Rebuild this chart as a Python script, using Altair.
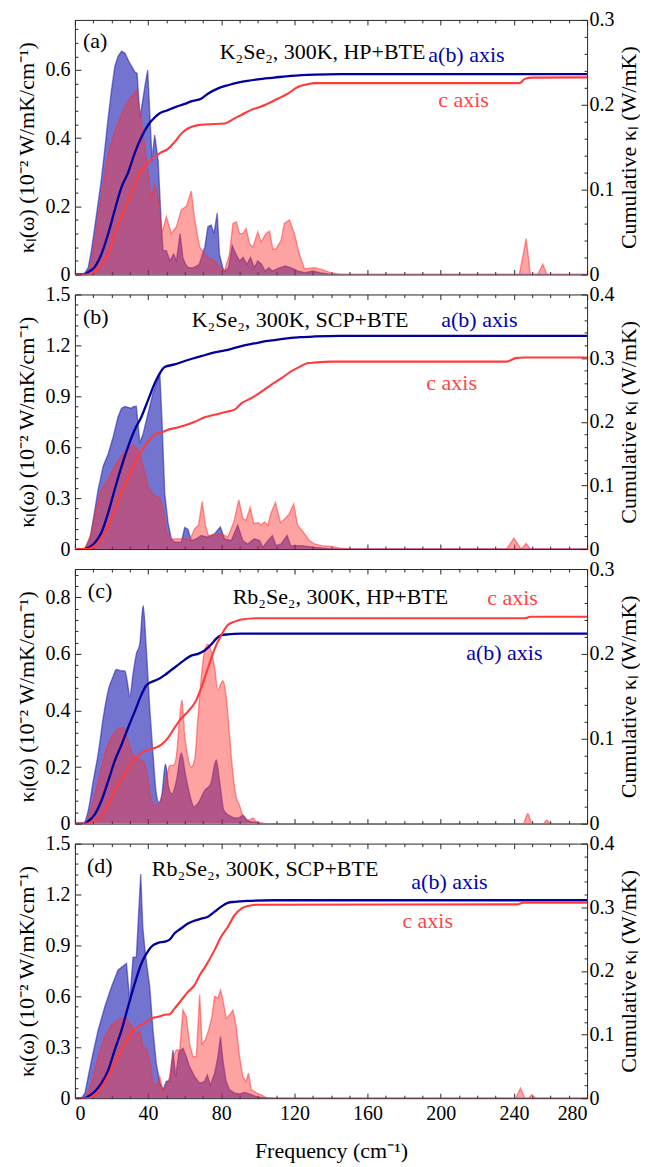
import altair as alt
import pandas as pd

# ---------------- data ----------------
# (frequency cm^-1, value) pairs
# panel (a) K2Se2 300K HP+BTE
A_AB_AREA = [(0,0),(3,0),(5.5,0.005),(7.3,0.02),(9,0.07),(10.9,0.14),(12.7,0.21),(14.5,0.28),(16.4,0.37),(18.2,0.46),
             (20,0.54),(21.8,0.61),(23.6,0.64),(25.5,0.655),(27.3,0.65),(30,0.62),(32.7,0.595),(34,0.59),(35.6,0.46),(38.2,0.55),
             (39.8,0.60),(41.5,0.41),(42.2,0.335),(43.6,0.41),(45.5,0.335),(47.3,0.14),(48.2,0.07),(50,0.07),(52,0.04),(54,0.06),
             (55.5,0.04),(57.5,0.12),(59,0.05),(60.5,0.03),(62,0.02),(65,0.02),(68,0.03),(71,0.08),(72.7,0.14),(74.5,0.145),
             (76,0.12),(77.8,0.18),(79,0.06),(81,0.017),(82,0.01),(84,0.02),(86,0.085),(88,0.06),(90,0.04),(92,0.05),
             (94,0.03),(96,0.05),(98,0.02),(100,0.04),(102,0.03),(104,0.01),(106,0.02),(108,0.01),(112,0.02),(115,0.025),
             (118,0.02),(122,0.01),(126,0.005),(130,0.01),(134,0.005),(140,0),(280,0)]
A_C_AREA = [(0,0),(4,0),(7.3,0.005),(9,0.04),(10.9,0.1),(12.7,0.17),(14.5,0.23),(16.4,0.3),(18.2,0.355),(21.8,0.42),
            (25.5,0.47),(29.1,0.51),(33.6,0.54),(36.4,0.45),(39.1,0.335),(41.8,0.22),(43.6,0.265),(45.1,0.24),(47.6,0.12),(50,0.17),
            (52.7,0.12),(55.5,0.14),(58.2,0.19),(61,0.2),(63.6,0.245),(65.5,0.16),(68.2,0.08),(72.7,0.05),(76.4,0.04),(80,0.017),
            (81.8,0.01),(84.5,0.06),(86.4,0.15),(88.2,0.155),(90,0.12),(91.8,0.12),(93.6,0.135),(95.5,0.09),(97.3,0.08),(100,0.125),
            (101.8,0.095),(104.5,0.12),(106.4,0.127),(108.2,0.075),(110,0.075),(112.7,0.1),(114.5,0.15),(117.3,0.16),(120,0.12),(122.7,0.06),
            (125.5,0.017),(131,0.02),(135,0.015),(140,0.005),(145,0),(243,0),(246.7,0.105),(249,0),(253,0),(255.8,0.03),(258,0),(280,0)]
A_AB_CUM = [(0,0),(5,0),(7.3,0.003),(10.9,0.009),(14.5,0.024),(18.2,0.048),(21.8,0.076),(25.5,0.103),(29.1,0.12),(32.7,0.143),
            (36.4,0.162),(40,0.176),(43.6,0.185),(46.4,0.19),(50,0.193),(54.5,0.197),(60,0.201),(63.6,0.204),(69,0.207),(72.7,0.213),
            (78,0.219),(83.6,0.223),(91,0.227),(100,0.23),(109,0.232),(118,0.234),(131,0.2355),(145,0.236),(280,0.236)]
A_C_CUM = [(0,0),(7.3,0),(10.9,0.004),(14.5,0.013),(18.2,0.024),(21.8,0.048),(25.5,0.068),(29.1,0.087),(32.7,0.107),(36.4,0.123),
           (40,0.131),(43.6,0.139),(47.3,0.144),(50.9,0.148),(54.5,0.156),(58.2,0.166),(61.8,0.172),(67.3,0.176),(72.7,0.177),(81.8,0.178),
           (87.3,0.184),(91,0.188),(96.4,0.194),(101.8,0.198),(109,0.205),(116.4,0.213),(121.8,0.221),(127,0.224),(131,0.2255),(140,0.2255),
           (243,0.2255),(246,0.2305),(250,0.232),(280,0.2323)]

# panel (b) K2Se2 300K SCP+BTE
B_AB_AREA = [(0,0),(3,0),(5.5,0.005),(8.2,0.06),(10.9,0.23),(12.7,0.35),(15.5,0.49),(18.2,0.56),(20.9,0.66),(23.6,0.78),
             (25.5,0.83),(27.3,0.84),(29,0.835),(30.9,0.83),(32,0.84),(33.6,0.84),(35.5,0.625),(37.3,0.68),(40,0.80),(42.7,0.92),
             (45.5,1.0),(46.4,1.04),(47.6,0.76),(49.1,0.33),(50.9,0.156),(52.7,0.06),(54.5,0.04),(58.2,0.04),(60,0.127),(61.8,0.117),
             (63.6,0.05),(66.4,0.06),(69,0.08),(72.7,0.07),(76.4,0.09),(79.5,0.13),(81.8,0.06),(85.5,0.05),(89,0.14),(91.8,0.05),
             (94.5,0.03),(98,0.06),(101,0.05),(102.7,0.01),(105.5,0.05),(108,0.08),(110,0.02),(112.7,0.03),(116,0.08),(118,0.02),
             (124,0.02),(131,0.01),(140,0),(280,0)]
B_C_AREA = [(0,0),(5.5,0),(9.1,0.1),(11.8,0.25),(14.5,0.35),(18.2,0.41),(21.8,0.49),(25.5,0.55),(29.1,0.59),(31.8,0.615),
            (34.5,0.585),(37.3,0.49),(40,0.37),(42.7,0.32),(46.4,0.30),(48.2,0.235),(50,0.1),(52.7,0.06),(56.4,0.06),(60,0.06),
            (62.7,0.05),(65.5,0.12),(67.6,0.14),(69.6,0.28),(71.3,0.14),(73,0.08),(76.4,0.085),(80,0.09),(83.6,0.07),(86.9,0.16),
            (89.6,0.29),(91.8,0.18),(93.6,0.17),(95.8,0.245),(97.8,0.15),(100.4,0.155),(101.8,0.14),(103.6,0.16),(105.5,0.14),(107.3,0.215),
            (109.6,0.275),(112.4,0.155),(114.5,0.175),(117,0.205),(119.6,0.265),(121.8,0.14),(125.5,0.09),(128.2,0.05),(131,0.03),(135,0.02),
            (140,0.015),(145,0.005),(150,0),(236,0),(240,0.063),(243.6,0.005),(244.5,0.005),(246.7,0.033),(249,0),(280,0)]
B_AB_CUM = [(0,0),(5,0),(8,0.003),(10.9,0.01),(14.5,0.026),(18.2,0.057),(21.8,0.094),(25.5,0.13),(29.1,0.161),(32.7,0.1875),
            (36.4,0.208),(40,0.234),(43.6,0.26),(46.4,0.276),(49.1,0.286),(54.5,0.29),(61.8,0.297),(69,0.303),(76.4,0.309),(83.6,0.313),
            (91,0.319),(98,0.323),(105.5,0.327),(112.7,0.33),(123.6,0.333),(131,0.334),(145,0.335),(280,0.335)]
B_C_CUM = [(0,0),(7,0),(10.9,0.005),(14.5,0.016),(18.2,0.036),(21.8,0.0625),(25.5,0.089),(29.1,0.112),(32.7,0.135),(36.4,0.154),
           (40,0.169),(43.6,0.18),(47.3,0.183),(50.9,0.1875),(54.5,0.19),(60,0.194),(65.5,0.2),(70.9,0.207),(76.4,0.211),(83.6,0.216),
           (87.3,0.219),(91,0.229),(96.4,0.237),(101.8,0.247),(107.3,0.258),(112.7,0.268),(118.2,0.279),(123.6,0.2875),(127,0.292),(131,0.293),
           (140,0.2945),(236,0.2945),(241,0.3),(246,0.301),(280,0.301)]

# panel (c) Rb2Se2 300K HP+BTE
C_AB_AREA = [(0,0),(4.5,0),(7.3,0.046),(10,0.15),(12.7,0.246),(15.5,0.375),(18.2,0.47),(20.9,0.52),(22.7,0.545),(25.5,0.54),
             (27.3,0.54),(28.7,0.5),(30,0.45),(31.8,0.53),(33.6,0.6),(35.5,0.635),(37.3,0.77),(39.1,0.61),(40.9,0.41),(42.7,0.246),
             (44.5,0.105),(46,0.075),(47.6,0.105),(49.5,0.21),(51.3,0.128),(53.1,0.105),(55.5,0.152),(58.2,0.25),(60.4,0.175),(62.7,0.105),
             (65.1,0.06),(67.6,0.075),(70.9,0.117),(74.2,0.14),(77.3,0.225),(79.1,0.15),(81.5,0.046),(84.5,0.028),(87.3,0.02),(90,0.022),
             (91.8,0.03),(94.5,0.01),(98,0.005),(105,0),(280,0)]
C_C_AREA = [(0,0),(5.5,0),(9.1,0.058),(12.7,0.15),(16.4,0.246),(20,0.305),(23.6,0.334),(26.4,0.34),(29.1,0.293),(31.8,0.24),
            (34.5,0.228),(37.3,0.222),(39.1,0.187),(41.5,0.093),(43.6,0.064),(46.4,0.072),(49.1,0.128),(51.8,0.205),(54,0.207),(55.5,0.24),
            (57.3,0.375),(58.5,0.437),(60,0.316),(61.8,0.234),(63.6,0.2),(65.5,0.228),(67.3,0.375),(69.1,0.516),(70.9,0.61),(72.7,0.634),
            (74.5,0.61),(76.4,0.55),(78.2,0.47),(79.5,0.49),(80.9,0.505),(82.7,0.45),(84.5,0.316),(86.4,0.175),(88.2,0.093),(90,0.064),
            (91.8,0.028),(93.6,0.016),(95.5,0.013),(97.3,0.02),(99,0.008),(103,0),(245,0),(247.6,0.035),(250,0),(256,0),
            (258,0.012),(260,0),(280,0)]
C_AB_CUM = [(0,0),(5,0),(7.3,0.003),(10.9,0.011),(14.5,0.027),(18.2,0.05),(21.8,0.074),(25.5,0.093),(29.1,0.113),(32.7,0.132),
            (36.4,0.152),(39.1,0.163),(41.8,0.167),(45.5,0.17),(49.1,0.175),(52.7,0.181),(56.4,0.187),(60,0.193),(63.6,0.198),(67.3,0.2),
            (70.9,0.204),(74.5,0.211),(77.3,0.218),(80,0.222),(83.6,0.223),(91,0.2238),(109,0.224),(280,0.224)]
C_C_CUM = [(0,0),(7,0),(9.1,0.002),(14.5,0.009),(18.2,0.023),(21.8,0.039),(25.5,0.052),(29.1,0.066),(32.7,0.076),(36.4,0.0835),
           (40,0.087),(43.6,0.089),(47.3,0.093),(50.9,0.101),(54.5,0.113),(58.2,0.124),(61.8,0.132),(65.5,0.142),(69.1,0.16),(72.7,0.183),
           (76.4,0.206),(80,0.222),(83.6,0.234),(87.3,0.238),(91,0.2405),(100,0.242),(246,0.242),(249,0.2438),(280,0.2438)]

# panel (d) Rb2Se2 300K SCP+BTE
D_AB_AREA = [(0,0),(3.6,0),(5.5,0.03),(9.1,0.225),(12.7,0.4),(16.4,0.54),(20,0.657),(23.6,0.755),(28.2,0.794),(30,0.57),
             (31.8,0.83),(33.6,0.83),(34.9,1.1),(36,1.32),(37.1,1.01),(38.5,0.85),(40.9,0.657),(42.7,0.4),(44.5,0.206),(46.4,0.09),
             (48.2,0.05),(50,0.1),(51.8,0.1),(53.6,0.284),(55.1,0.127),(56.9,0.275),(59.1,0.294),(60.9,0.245),(62.7,0.186),(65.5,0.127),
             (68.2,0.088),(70.9,0.098),(72.4,0.137),(74,0.078),(76.4,0.147),(78.2,0.245),(79.6,0.363),(80.9,0.225),(82.7,0.098),(84.5,0.05),
             (87.3,0.03),(90,0.025),(92.7,0.033),(95.5,0.025),(99,0.01),(101.8,0.005),(105,0),(280,0)]
D_C_AREA = [(0,0),(5.5,0),(9.1,0.088),(12.7,0.245),(16.4,0.363),(20,0.43),(23.6,0.46),(27.3,0.476),(30.9,0.43),(33.6,0.37),
            (35.5,0.4),(37.3,0.3),(39.1,0.294),(40.9,0.225),(42.7,0.088),(44.5,0.07),(46.4,0.127),(48.2,0.04),(50,0.07),(51.8,0.127),
            (53.6,0.245),(55.5,0.284),(57.3,0.284),(59.1,0.52),(60.9,0.48),(62.7,0.32),(64.5,0.245),(66.4,0.245),(68.2,0.61),(69.5,0.32),
            (71.3,0.343),(73.1,0.4),(74.9,0.48),(76.4,0.6),(78.2,0.59),(79.6,0.637),(80.9,0.58),(82.7,0.47),(84.5,0.49),(86.4,0.52),
            (88.2,0.42),(90,0.245),(91.8,0.127),(93.6,0.098),(94.9,0.147),(96.4,0.05),(99,0.033),(101.8,0.02),(104.5,0.005),(110,0),
            (241,0),(243.6,0.059),(246,0),(248,0),(249.8,0.02),(252,0),(280,0)]
D_AB_CUM = [(0,0),(5,0),(7.3,0.003),(10.9,0.0105),(14.5,0.0235),(18.2,0.044),(21.8,0.076),(25.5,0.107),(29.1,0.144),(32.7,0.18),
            (36.4,0.212),(39.1,0.227),(41.8,0.238),(45.5,0.244),(49.1,0.246),(51.8,0.249),(54.5,0.259),(58.2,0.267),(61.8,0.2745),(65.5,0.279),
            (69.1,0.282),(72.7,0.285),(76.4,0.293),(80,0.301),(83.6,0.307),(87.3,0.3085),(94.5,0.31),(109,0.311),(280,0.311)]
D_C_CUM = [(0,0),(8,0),(12.7,0.0105),(16.4,0.026),(20,0.044),(23.6,0.065),(27.3,0.086),(30.9,0.102),(34.5,0.112),(38.2,0.118),
           (41.8,0.1255),(45.5,0.128),(49.1,0.131),(51.8,0.132),(54.5,0.141),(58.2,0.154),(61.8,0.167),(65.5,0.178),(68.2,0.193),(71.8,0.209),
           (76.4,0.233),(80,0.254),(83.6,0.269),(87.3,0.2875),(91,0.298),(94.5,0.302),(100,0.304),(242,0.3045),(245,0.307),(280,0.307)]

# tick values
FREQ_MAJOR = [0, 40, 80, 120, 160, 200, 240, 280]
FREQ_MINOR = [10, 20, 30, 50, 60, 70, 90, 100, 110, 130, 140, 150, 170, 180, 190, 210, 220, 230, 250, 260, 270]
K_MAJOR_A = [0, 0.2, 0.4, 0.6]
K_MAJOR_B = [0, 0.3, 0.6, 0.9, 1.2, 1.5]
K_MAJOR_C = [0, 0.2, 0.4, 0.6, 0.8]
K_MINOR_A = [0.04, 0.08, 0.12, 0.16, 0.24, 0.28, 0.32, 0.36, 0.44, 0.48, 0.52, 0.56, 0.64, 0.68, 0.72]
K_MINOR_B = [0.06, 0.12, 0.18, 0.24, 0.36, 0.42, 0.48, 0.54, 0.66, 0.72, 0.78, 0.84, 0.96, 1.02, 1.08, 1.14, 1.26, 1.32, 1.38, 1.44]
K_MINOR_C = [0.04, 0.08, 0.12, 0.16, 0.24, 0.28, 0.32, 0.36, 0.44, 0.48, 0.52, 0.56, 0.64, 0.68, 0.72, 0.76, 0.84, 0.88]
CUM_MAJOR_3 = [0, 0.1, 0.2, 0.3]
CUM_MAJOR_4 = [0, 0.1, 0.2, 0.3, 0.4]
CUM_MINOR_3 = [0.02, 0.04, 0.06, 0.08, 0.12, 0.14, 0.16, 0.18, 0.22, 0.24, 0.26, 0.28]
CUM_MINOR_4 = CUM_MINOR_3 + [0.32, 0.34, 0.36, 0.38]

# texts
LABELS_A = ["(a)", "K₂Se₂, 300K, HP+BTE", "a(b) axis", "c axis"]
LABELS_B = ["(b)", "K₂Se₂, 300K, SCP+BTE", "a(b) axis", "c axis"]
LABELS_C = ["(c)", "Rb₂Se₂, 300K, HP+BTE", "c axis", "a(b) axis"]
LABELS_D = ["(d)", "Rb₂Se₂, 300K, SCP+BTE", "a(b) axis", "c axis"]
LEFT_TITLE = "κₗ(ω) (10⁻² W/mK/cm⁻¹)"
RIGHT_TITLE = "Cumulative κₗ (W/mK)"
X_TITLE = "Frequency (cm⁻¹)"

# ---------------- style ----------------
FONT = "Liberation Serif"
FS_TICK = 20
FS_TITLE = 22
FS_NOTE = 22
W, H = 513, 255
FRAME = "#262626"
BLUE_FILL = "#0000AA"
RED_FILL = "#FF3030"
BLUE_LINE = "#00009C"
RED_LINE = "#FF3B3B"
TXT_BLUE = "#0000B0"
TXT_RED = "#FF4545"


def to_df(pairs, name):
    return pd.DataFrame({"f": [p[0] for p in pairs], name: [p[1] for p in pairs]})


def xaxis(orient, vals, size, labels=False, title=None):
    d = dict(orient=orient, values=vals, tickSize=size, offset=-size, domain=False, grid=False,
             ticks=True, tickColor=FRAME, labels=labels, title=title)
    if labels:
        d.update(labelFont=FONT, labelFontSize=FS_TICK, labelColor="black", labelPadding=5,
                 minExtent=30, maxExtent=30)
    if title:
        d.update(titleFont=FONT, titleFontSize=FS_TITLE, titleFontWeight="normal", titleColor="black",
                 titlePadding=17)
    return alt.Axis(**d)


def yaxis(orient, vals, size, labels=False, title=None):
    d = dict(orient=orient, values=vals, tickSize=size, offset=-size, domain=False, grid=False,
             ticks=True, tickColor=FRAME, labels=labels, title=title)
    if labels:
        ext = 36 if orient == "left" else 33
        d.update(labelFont=FONT, labelFontSize=FS_TICK, labelColor="black",
                 labelPadding=5 if orient == "left" else 2,
                 labelExpr="datum.value == 0 ? '0' : format(datum.value, '.1f')",
                 minExtent=ext, maxExtent=ext)
    if title:
        d.update(titleFont=FONT, titleFontSize=FS_TITLE, titleFontWeight="normal", titleColor="black")
        if orient == "left":
            d.update(titlePadding=6)
        else:
            d.update(titlePadding=4, titleAngle=270, titleBaseline="top")
    return alt.Axis(**d)


def panel(ab_area, c_area, ab_cum, c_cum, kdom, kmaj, kmin, cdom, cmaj, cmin,
          labels, positions, colors, bottom=False, interp="linear"):
    xs = alt.Scale(domain=[0, 280], nice=False, zero=False)
    ks = alt.Scale(domain=kdom, nice=False, zero=False)
    cs = alt.Scale(domain=cdom, nice=False, zero=False)

    l1 = alt.Chart(to_df(ab_area, "k")).mark_area(
        color=BLUE_FILL, fillOpacity=0.55, opacity=1, interpolate=interp, clip=True,
        line={"color": "#2020A8", "strokeWidth": 1.4, "opacity": 0.55},
    ).encode(
        x=alt.X("f:Q", scale=xs, axis=xaxis("bottom", FREQ_MAJOR, 5, labels=bottom,
                                            title=X_TITLE if bottom else None)),
        y=alt.Y("k:Q", scale=ks, axis=yaxis("left", kmaj, 6, labels=True, title=LEFT_TITLE)),
    )
    l2 = alt.Chart(to_df(c_area, "k")).mark_area(
        color=RED_FILL, fillOpacity=0.45, opacity=1, interpolate=interp, clip=True,
        line={"color": "#FF3030", "strokeWidth": 1.4, "opacity": 0.5},
    ).encode(
        x=alt.X("f:Q", scale=xs, axis=xaxis("bottom", FREQ_MINOR, 3)),
        y=alt.Y("k:Q", scale=ks, axis=yaxis("left", kmin, 3)),
    )
    l3 = alt.Chart(to_df(ab_cum, "c")).mark_line(
        color=BLUE_LINE, strokeWidth=2.3, interpolate="monotone", clip=True,
    ).encode(
        x=alt.X("f:Q", scale=xs, axis=xaxis("top", FREQ_MAJOR, 5)),
        y=alt.Y("c:Q", scale=cs, axis=yaxis("right", cmaj, 6, labels=True, title=RIGHT_TITLE)),
    )
    l4 = alt.Chart(to_df(c_cum, "c")).mark_line(
        color=RED_LINE, strokeWidth=2.1, interpolate="monotone", clip=True,
    ).encode(
        x=alt.X("f:Q", scale=xs, axis=xaxis("top", FREQ_MINOR, 3)),
        y=alt.Y("c:Q", scale=cs, axis=yaxis("right", cmin, 3)),
    )
    texts = []
    for txt, (px, py), col in zip(labels, positions, colors):
        texts.append(
            alt.Chart(pd.DataFrame({"label": [txt]})).mark_text(
                x=px, y=py, align="left", baseline="alphabetic", font=FONT, fontSize=FS_NOTE, color=col
            ).encode(text="label:N")
        )
    return (
        alt.layer(l1, l2, l3, l4, *texts)
        .resolve_scale(y="independent")
        .resolve_axis(x="independent", y="independent")
        .properties(width=W, height=H)
    )


pa = panel(A_AB_AREA, A_C_AREA, A_AB_CUM, A_C_CUM, [0, 0.747], K_MAJOR_A, K_MINOR_A, [0, 0.3],
           CUM_MAJOR_3, CUM_MINOR_3, LABELS_A,
           [(8, 28), (145, 39), (354, 42), (364, 87)], ["black", "black", TXT_BLUE, TXT_RED])
pb = panel(B_AB_AREA, B_C_AREA, B_AB_CUM, B_C_CUM, [0, 1.5], K_MAJOR_B, K_MINOR_B, [0, 0.4],
           CUM_MAJOR_4, CUM_MINOR_4, LABELS_B,
           [(8, 30), (117, 33), (367, 33), (352, 96)], ["black", "black", TXT_BLUE, TXT_RED])
pc = panel(C_AB_AREA, C_C_AREA, C_AB_CUM, C_C_CUM, [0, 0.9], K_MAJOR_C, K_MINOR_C, [0, 0.3],
           CUM_MAJOR_3, CUM_MINOR_3, LABELS_C,
           [(13, 29), (158, 35), (413, 36), (392, 91)], ["black", "black", TXT_RED, TXT_BLUE],
           interp="monotone")
pd_ = panel(D_AB_AREA, D_C_AREA, D_AB_CUM, D_C_CUM, [0, 1.5], K_MAJOR_B, K_MINOR_B, [0, 0.4],
            CUM_MAJOR_4, CUM_MINOR_4, LABELS_D,
            [(12, 29), (77, 32), (337, 45), (328, 85)], ["black", "black", TXT_BLUE, TXT_RED],
            bottom=True)

chart = (
    alt.vconcat(pa, pb, pc, pd_, spacing=20, bounds="flush")
    .properties(padding={"left": 7, "top": 0, "right": 0, "bottom": 0}, background="white")
    .configure_axis(labelFont=FONT, titleFont=FONT, labelFontSize=FS_TICK, titleFontSize=FS_TITLE,
                    titleFontWeight="normal", labelColor="black", titleColor="black")
    .configure_text(font=FONT)
    .configure_view(stroke=FRAME, strokeWidth=1)
)

chart.save("out.html", embed_options={"renderer": "svg", "actions": False})
